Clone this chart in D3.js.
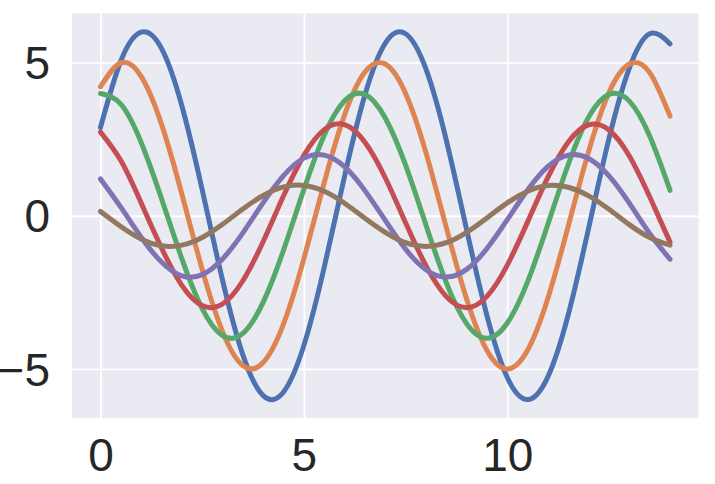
<!DOCTYPE html>
<html>
<head>
<meta charset="utf-8">
<script src="https://cdn.jsdelivr.net/npm/d3@7/dist/d3.min.js"></script>
<style>
  html, body { margin: 0; padding: 0; background: #ffffff; }
  svg { display: block; }
</style>
</head>
<body>
<svg id="chart" width="715" height="484"></svg>
<script>
const xValues = [0, 0.5, 1, 1.5, 2, 2.5, 3, 3.5, 4, 4.5, 5, 5.5, 6, 6.5, 7, 7.5, 8, 8.5, 9, 9.5, 10, 10.5, 11, 11.5, 12, 12.5, 13, 13.5, 14];

const series1 = [2.88, 5.05, 5.99, 5.46, 3.59, 0.85, -2.10, -4.54, -5.87, -5.75, -4.23, -1.68, 1.29, 3.94, 5.63, 5.94, 4.79, 2.47, -0.45, -3.26, -5.28, -6.00, -5.25, -3.22, -0.40, 2.52, 4.82, 5.94, 5.61];
const series2 = [4.21, 4.99, 4.55, 2.99, 0.71, -1.75, -3.78, -4.89, -4.79, -3.53, -1.40, 1.08, 3.29, 4.69, 4.95, 3.99, 2.06, -0.38, -2.72, -4.40, -5.00, -4.38, -2.68, -0.33, 2.10, 4.02, 4.95, 4.67, 3.25];
const series3 = [3.99, 3.64, 2.39, 0.56, -1.40, -3.03, -3.91, -3.84, -2.82, -1.12, 0.86, 2.63, 3.75, 3.96, 3.19, 1.65, -0.30, -2.18, -3.52, -4.00, -3.50, -2.15, -0.27, 1.68, 3.22, 3.96, 3.74, 2.60, 0.83];
const series4 = [2.73, 1.80, 0.42, -1.05, -2.27, -2.93, -2.88, -2.12, -0.84, 0.65, 1.97, 2.81, 2.97, 2.40, 1.24, -0.23, -1.63, -2.64, -3.00, -2.63, -1.61, -0.20, 1.26, 2.41, 2.97, 2.80, 1.95, 0.62, -0.86];
const series5 = [1.20, 0.28, -0.70, -1.51, -1.96, -1.92, -1.41, -0.56, 0.43, 1.31, 1.88, 1.98, 1.60, 0.82, -0.15, -1.09, -1.76, -2.00, -1.75, -1.07, -0.13, 0.84, 1.61, 1.98, 1.87, 1.30, 0.41, -0.58, -1.42];
const series6 = [0.14, -0.35, -0.76, -0.98, -0.96, -0.71, -0.28, 0.22, 0.66, 0.94, 0.99, 0.80, 0.41, -0.08, -0.54, -0.88, -1.00, -0.88, -0.54, -0.07, 0.42, 0.80, 0.99, 0.93, 0.65, 0.21, -0.29, -0.71, -0.96];

const allSeries = [series1, series2, series3, series4, series5, series6];
const colors = ["#4C72B0", "#DD8452", "#55A868", "#C44E52", "#8172B3", "#937860"];
const xTicks = [0, 5, 10];
const yTicks = [-5, 0, 5];

const svg = d3.select("#chart");
const plotLeft = 72, plotRight = 698.5, plotTop = 13.5, plotBottom = 418;

const x = d3.scaleLinear().domain([-0.7, 14.7]).range([plotLeft, plotRight]);
const y = d3.scaleLinear().domain([-6.6, 6.6]).range([plotBottom, plotTop]);

svg.append("rect")
  .attr("x", plotLeft).attr("y", plotTop)
  .attr("width", plotRight - plotLeft).attr("height", plotBottom - plotTop)
  .attr("fill", "#EAEAF2");

const fmt = d => d < 0 ? "\u2212" + Math.abs(d) : String(d);
const xAxis = d3.axisBottom(x).tickValues(xTicks).tickSize(-(plotBottom - plotTop)).tickPadding(20).tickFormat(fmt);
const yAxis = d3.axisLeft(y).tickValues(yTicks).tickSize(-(plotRight - plotLeft)).tickPadding(22).tickFormat(fmt);

function styleAxis(g) {
  g.select(".domain").remove();
  g.selectAll(".tick line").attr("stroke", "#ffffff").attr("stroke-width", 1.8);
  g.selectAll(".tick text")
    .attr("fill", "#262626")
    .style("font-family", "'Liberation Sans', Arial, sans-serif")
    .style("font-size", "46px");
}

svg.append("g").attr("transform", `translate(0,${plotBottom})`).call(xAxis).call(styleAxis)
  .selectAll(".tick text").attr("dy", "0.71em");
svg.append("g").attr("transform", `translate(${plotLeft},0)`).call(yAxis).call(styleAxis)
  .selectAll(".tick text").attr("dy", "0.35em");

const line = d3.line()
  .x((d, i) => x(xValues[i]))
  .y(d => y(d))
  .curve(d3.curveNatural);

svg.append("g").selectAll("path")
  .data(allSeries)
  .join("path")
  .attr("d", d => line(d))
  .attr("fill", "none")
  .attr("stroke", (d, i) => colors[i])
  .attr("stroke-width", 5)
  .attr("stroke-linecap", "round")
  .attr("stroke-linejoin", "round");
</script>
</body>
</html>
